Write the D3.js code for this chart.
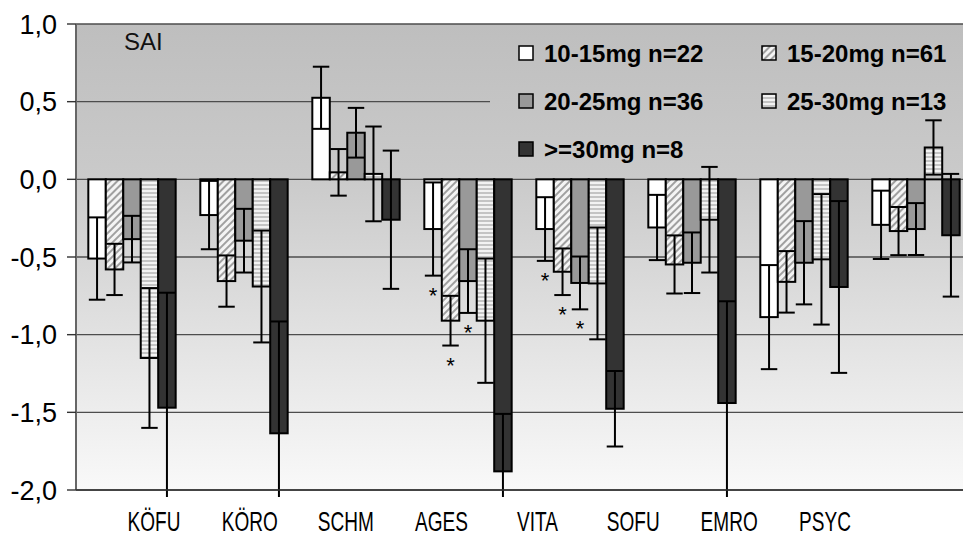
<!DOCTYPE html>
<html>
<head>
<meta charset="utf-8">
<script src="https://cdn.jsdelivr.net/npm/d3@7"></script>
<style>
  html, body { margin: 0; padding: 0; background: #ffffff; }
  svg { display: block; font-family: "Liberation Sans", Arial, sans-serif; }
</style>
</head>
<body>
<svg id="chart" width="963" height="544"></svg>
<script>
// Categories (subscales) and dose groups
const categories = ["KÖFU", "KÖRO", "SCHM", "AGES", "VITA", "SOFU", "EMRO", "PSYC"];
const seriesNames = ["10-15mg n=22", "15-20mg n=61", "20-25mg n=36", "25-30mg n=13", ">=30mg n=8"];

// Mean change per category for each dose group
const mean10to15 = [-0.51, -0.23, 0.525, -0.32, -0.32, -0.31, -0.887, -0.293];
const mean15to20 = [-0.58, -0.655, 0.045, -0.91, -0.595, -0.548, -0.66, -0.333];
const mean20to25 = [-0.385, -0.395, 0.30, -0.655, -0.667, -0.537, -0.537, -0.32];
const mean25to30 = [-1.15, -0.69, 0.035, -0.91, -0.67, -0.26, -0.515, 0.205];
const mean30plus = [-1.47, -1.635, -0.26, -1.88, -1.477, -1.44, -0.693, -0.36];

// Error bar half-widths per category for each dose group
const err10to15 = [0.265, 0.22, 0.20, 0.30, 0.205, 0.21, 0.335, 0.22];
const err15to20 = [0.165, 0.165, 0.15, 0.16, 0.15, 0.187, 0.198, 0.155];
const err20to25 = [0.15, 0.205, 0.16, 0.205, 0.17, 0.195, 0.268, 0.167];
const err25to30 = [0.45, 0.36, 0.305, 0.40, 0.36, 0.34, 0.42, 0.175];
const err30plus = [0.74, 0.72, 0.445, 0.37, 0.243, 0.655, 0.553, 0.395];

// Significant results, marked with an asterisk: [category, dose group index]
const significant = [["AGES", 0], ["AGES", 1], ["AGES", 2], ["VITA", 0], ["VITA", 1], ["VITA", 2]];

// Axis ticks
const yTicks = [1.0, 0.5, 0.0, -0.5, -1.0, -1.5, -2.0];
const panelTitle = "SAI";

const means = [mean10to15, mean15to20, mean20to25, mean25to30, mean30plus];
const errs = [err10to15, err15to20, err20to25, err25to30, err30plus];

const rows = [];
seriesNames.forEach((s, si) => {
  categories.forEach((c, ci) => {
    rows.push({ cat: c, series: s, si: si, value: means[si][ci], err: errs[si][ci] });
  });
});

const svg = d3.select("#chart");
const plot = { left: 76, right: 972, top: 24, bottom: 490 };

const y = d3.scaleLinear().domain([-2, 1]).range([plot.bottom, plot.top]);
const x = d3.scaleBand().domain(categories).range([plot.left, plot.right])
  .paddingInner(0.22).paddingOuter(0.11);
const xs = d3.scaleBand().domain(seriesNames).range([0, x.bandwidth()]).padding(0);
const xLabel = d3.scalePoint().domain(categories).range([154, 825]);

const locale = d3.formatLocale({ decimal: ",", thousands: ".", grouping: [3], currency: ["", ""], minus: "-" });
const fmt = locale.format(".1f");

// Definitions: background gradient and bar fills
const defs = svg.append("defs");
const grad = defs.append("linearGradient").attr("id", "bg")
  .attr("gradientUnits", "userSpaceOnUse")
  .attr("x1", 0).attr("x2", 0).attr("y1", plot.top).attr("y2", plot.bottom);
grad.append("stop").attr("offset", "0%").attr("stop-color", "#bebebe");
grad.append("stop").attr("offset", "33%").attr("stop-color", "#cacaca");
grad.append("stop").attr("offset", "100%").attr("stop-color", "#f9f9f9");

const hatch = defs.append("pattern").attr("id", "hatch")
  .attr("patternUnits", "userSpaceOnUse").attr("width", 5).attr("height", 5)
  .attr("patternTransform", "rotate(45)");
hatch.append("rect").attr("width", 5).attr("height", 5).attr("fill", "#f4f4f4");
hatch.append("rect").attr("width", 2).attr("height", 5).attr("fill", "#a0a0a0");

const hstripe = defs.append("pattern").attr("id", "hstripe")
  .attr("patternUnits", "userSpaceOnUse").attr("width", 4).attr("height", 4);
hstripe.append("rect").attr("width", 4).attr("height", 4).attr("fill", "#f2f2f2");
hstripe.append("rect").attr("width", 4).attr("height", 2).attr("fill", "#c4c4c4");

defs.append("clipPath").attr("id", "errClip")
  .append("rect").attr("x", 0).attr("y", 0).attr("width", 963).attr("height", plot.bottom + 7);

const fills = ["#ffffff", "url(#hatch)", "#999999", "url(#hstripe)", "#333333"];
const color = d3.scaleOrdinal().domain(seriesNames).range(fills);

// Plot background
svg.append("rect").attr("x", plot.left).attr("y", plot.top)
  .attr("width", plot.right - plot.left).attr("height", plot.bottom - plot.top)
  .attr("fill", "url(#bg)");

// Gridlines
svg.append("g").selectAll("line").data(yTicks).join("line")
  .attr("x1", plot.left).attr("x2", plot.right)
  .attr("y1", d => y(d)).attr("y2", d => y(d))
  .attr("stroke", "#4d4d4d").attr("stroke-width", 1.4);

// Legend panel (same fill as the plot, hides the gridline behind it)
const legendX = 490;
svg.append("rect").attr("x", legendX).attr("y", plot.top + 6)
  .attr("width", plot.right - legendX).attr("height", 136)
  .attr("fill", "url(#bg)");

// Bars
svg.append("g").selectAll("rect").data(rows).join("rect")
  .attr("x", d => x(d.cat) + xs(d.series))
  .attr("width", xs.bandwidth())
  .attr("y", d => y(Math.max(0, d.value)))
  .attr("height", d => Math.abs(y(d.value) - y(0)))
  .attr("fill", d => color(d.series))
  .attr("stroke", "#000").attr("stroke-width", 2);

// Error bars
const capHalf = xs.bandwidth() / 2 - 0.5;
const eg = svg.append("g").attr("clip-path", "url(#errClip)")
  .attr("stroke", "#000").attr("stroke-width", 2);
rows.forEach(d => {
  const cx = x(d.cat) + xs(d.series) + xs.bandwidth() / 2;
  const hi = y(d.value + d.err), lo = y(d.value - d.err);
  eg.append("line").attr("x1", cx).attr("x2", cx).attr("y1", hi).attr("y2", lo);
  eg.append("line").attr("x1", cx - capHalf).attr("x2", cx + capHalf).attr("y1", hi).attr("y2", hi);
  eg.append("line").attr("x1", cx - capHalf).attr("x2", cx + capHalf).attr("y1", lo).attr("y2", lo);
});

// Significance asterisks below the lower error bar end
svg.append("g").selectAll("text").data(significant).join("text")
  .attr("x", ([c, si]) => x(c) + xs(seriesNames[si]) + xs.bandwidth() / 2)
  .attr("y", ([c, si]) => {
    const ci = categories.indexOf(c);
    return y(means[si][ci] - errs[si][ci]) + 27;
  })
  .attr("text-anchor", "middle")
  .attr("font-size", 22).attr("fill", "#000")
  .text("*");

// Y axis
const yAxis = svg.append("g");
yAxis.append("line").attr("x1", plot.left).attr("x2", plot.left)
  .attr("y1", plot.top).attr("y2", plot.bottom)
  .attr("stroke", "#666").attr("stroke-width", 2);
yAxis.selectAll("line.tick").data(yTicks).join("line").attr("class", "tick")
  .attr("x1", plot.left - 9).attr("x2", plot.left)
  .attr("y1", d => y(d)).attr("y2", d => y(d))
  .attr("stroke", "#333").attr("stroke-width", 1.4);
yAxis.selectAll("text").data(yTicks).join("text")
  .attr("x", 57).attr("y", d => y(d))
  .attr("dy", "0.36em").attr("text-anchor", "end")
  .attr("font-size", 27).attr("fill", "#000")
  .text(d => fmt(d));

// Bottom axis line
svg.append("line").attr("x1", plot.left).attr("x2", plot.right)
  .attr("y1", plot.bottom).attr("y2", plot.bottom)
  .attr("stroke", "#333").attr("stroke-width", 1.6);

// Category labels (condensed lettering)
svg.append("g").selectAll("text").data(categories).join("text")
  .attr("transform", d => `translate(${xLabel(d)},531) scale(0.68,1)`)
  .attr("text-anchor", "middle")
  .attr("font-size", 28).attr("fill", "#000")
  .text(d => d);

// Panel title
svg.append("text").attr("x", 124).attr("y", 50)
  .attr("font-size", 24).attr("fill", "#111").text(panelTitle);

// Legend
const legendCols = [519, 762];
const legendRows = [53, 101, 149];
const lg = svg.append("g").selectAll("g").data(seriesNames).join("g")
  .attr("transform", (d, i) => `translate(${legendCols[i % 2]},${legendRows[Math.floor(i / 2)]})`);
lg.append("rect").attr("x", 0).attr("y", -7).attr("width", 14).attr("height", 14)
  .attr("fill", d => color(d)).attr("stroke", "#000").attr("stroke-width", 1.5);
lg.append("text").attr("x", 25).attr("y", 0).attr("dy", "0.36em")
  .attr("font-size", 24).attr("font-weight", "bold").attr("fill", "#000")
  .text(d => d);
</script>
</body>
</html>
